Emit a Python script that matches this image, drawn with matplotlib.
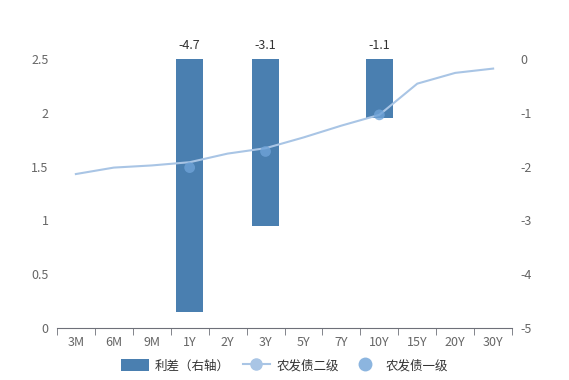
import numpy as np
import matplotlib.pyplot as plt
from matplotlib.lines import Line2D
from matplotlib.patches import FancyBboxPatch

plt.rcParams['font.family'] = ['Noto Sans CJK SC', 'DejaVu Sans']

# data
terms = ['3M', '6M', '9M', '1Y', '2Y', '3Y', '5Y', '7Y', '10Y', '15Y', '20Y', '30Y']
level2 = [1.43, 1.49, 1.51, 1.54, 1.62, 1.67, 1.77, 1.88, 1.98, 2.27, 2.37, 2.41]
level1_terms = ['1Y', '3Y', '10Y']
level1 = [1.49, 1.64, 1.98]
spread_terms = ['1Y', '3Y', '10Y']
spread = [-4.7, -3.1, -1.1]

bar_color = '#4a7fb0'
line_color = '#a9c5e5'
dot_color = '#6fa3d8'
text_color = '#666666'

fig = plt.figure(figsize=(5.69, 3.8), dpi=100)
ax = fig.add_axes([0.1, 0.137, 0.8, 0.708])
ax2 = ax.twinx()

x = np.arange(len(terms))
idx = {t: i for i, t in enumerate(terms)}

# bars on right axis
bx = [idx[t] for t in spread_terms]
ax2.bar(bx, spread, width=0.7, color=bar_color, zorder=1)
for xi, v in zip(bx, spread):
    ax2.annotate(f'{v:.1f}', (xi, 0), xytext=(0, 5), textcoords='offset points',
                 ha='center', va='bottom', fontsize=9, color='#333333')
ax2.set_ylim(-5, 0)
ax2.set_yticks([-5, -4, -3, -2, -1, 0])
ax2.set_yticklabels(['-5', '-4', '-3', '-2', '-1', '0'])

# lines on left axis, drawn above bars
ax.set_zorder(ax2.get_zorder() + 1)
ax.patch.set_visible(False)
ax.plot(x, level2, color=line_color, lw=1.5, zorder=3)
ax.scatter([idx[t] for t in level1_terms], level1, s=60, color=dot_color,
           alpha=0.8, edgecolors='none', zorder=4)
ax.set_ylim(0, 2.5)
ax.set_yticks([0, 0.5, 1, 1.5, 2, 2.5])
ax.set_yticklabels(['0', '0.5', '1', '1.5', '2', '2.5'])
ax.set_xlim(-0.5, len(terms) - 0.5)
ax2.set_xlim(-0.5, len(terms) - 0.5)

ax.set_xticks(x)
ax.set_xticklabels(terms)
ax.set_xticks(np.arange(-0.5, len(terms)), minor=True)
ax.tick_params(axis='x', which='major', length=0, pad=6, labelsize=9, labelcolor=text_color)
ax.tick_params(axis='x', which='minor', length=5, color='#6e7079', direction='out')
ax.tick_params(axis='y', length=0, pad=6, labelsize=9, labelcolor=text_color)
ax2.tick_params(axis='y', length=0, pad=6, labelsize=9, labelcolor=text_color)

for a in (ax, ax2):
    for s in ['top', 'left', 'right']:
        a.spines[s].set_visible(False)
ax2.spines['bottom'].set_visible(False)
ax.spines['bottom'].set_color('#6e7079')

handles = [
    FancyBboxPatch((0, 0), 1, 1, boxstyle='round,pad=0,rounding_size=0.15',
                   facecolor=bar_color, edgecolor='none'),
    Line2D([0], [0], color=line_color, lw=1.5, marker='o', markersize=8,
           markerfacecolor=line_color, markeredgecolor=line_color),
    Line2D([0], [0], lw=0, marker='o', markersize=10, markerfacecolor=dot_color,
           markeredgecolor='none', alpha=0.8),
]
labels = ['利差（右轴）', '农发债二级', '农发债一级']
fig.legend(handles, labels, loc='center', bbox_to_anchor=(0.5, 0.037), ncol=3,
           frameon=False, fontsize=9, labelcolor='#333333', handlelength=2.2,
           handleheight=1.1, columnspacing=1.0, handletextpad=0.5)

fig.savefig('out.png', dpi=100)
